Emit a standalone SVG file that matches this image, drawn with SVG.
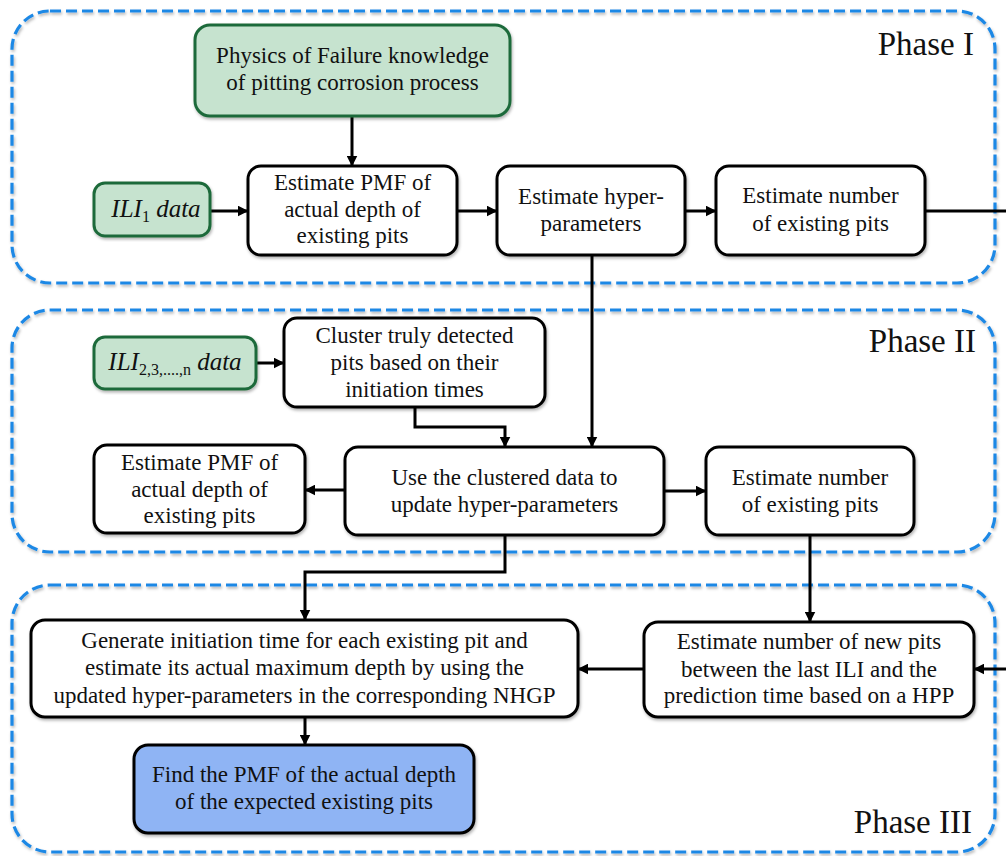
<svg xmlns="http://www.w3.org/2000/svg" width="1006" height="856" viewBox="0 0 1006 856">
  <style>
    .phase { fill: none; stroke: #1e88e5; stroke-width: 3.2; stroke-dasharray: 11 5; filter: url(#soft); }
    .box { fill: #ffffff; stroke: #000000; stroke-width: 3; filter: url(#soft); }
    .data { fill: #c6e3cf; stroke: #1f6b3a; stroke-width: 3; filter: url(#soft); }
    .result { fill: #8fb4f4; stroke: #000000; stroke-width: 3; filter: url(#soft); }
    .label { font-family: "Liberation Serif", "Times New Roman", serif; font-size: 23px; fill: #111111; text-anchor: middle; }
    .math { font-family: "Liberation Serif", "Times New Roman", serif; font-size: 25px; font-style: italic; fill: #111111; text-anchor: middle; }
    .sub { font-style: normal; font-size: 16px; }
    .phase-title { font-family: "Liberation Serif", "Times New Roman", serif; font-size: 33px; fill: #111111; text-anchor: end; }
    .link { fill: none; stroke: #000000; stroke-width: 3; }
  </style>
  <defs>
    <filter id="soft" x="-5%" y="-5%" width="110%" height="115%">
      <feDropShadow dx="1" dy="2" stdDeviation="1.4" flood-color="#000000" flood-opacity="0.3"/>
    </filter>
    <marker id="arrow" viewBox="0 0 10 10" refX="9.5" refY="5" markerWidth="11" markerHeight="11" markerUnits="userSpaceOnUse" orient="auto">
      <path d="M0,0 L10,5 L0,10 Z" fill="#000000"/>
    </marker>
  </defs>

  <rect width="1006" height="856" fill="#ffffff"/>

  <!-- phase containers -->
  <g id="phase-1">
    <rect class="phase" x="12" y="11" width="983" height="272" rx="38"/>
    <text class="phase-title" x="974" y="55">Phase I</text>
  </g>
  <g id="phase-2">
    <rect class="phase" x="12" y="310" width="983" height="242" rx="38"/>
    <text class="phase-title" x="976" y="352">Phase II</text>
  </g>
  <g id="phase-3">
    <rect class="phase" x="12" y="585" width="983" height="267" rx="38"/>
    <text class="phase-title" x="972" y="833">Phase III</text>
  </g>

  <!-- connectors -->
  <g id="connectors">
    <path class="link" d="M352,116 V166" marker-end="url(#arrow)"/>
    <path class="link" d="M210,211 H248" marker-end="url(#arrow)"/>
    <path class="link" d="M457,211 H497" marker-end="url(#arrow)"/>
    <path class="link" d="M685,211 H716" marker-end="url(#arrow)"/>
    <path class="link" d="M925,211 H1006"/>
    <path class="link" d="M592,255 V447" marker-end="url(#arrow)"/>
    <path class="link" d="M256,363 H284" marker-end="url(#arrow)"/>
    <path class="link" d="M415,407 V427 H505 V447" marker-end="url(#arrow)"/>
    <path class="link" d="M345,490 H305" marker-end="url(#arrow)"/>
    <path class="link" d="M664,491 H706" marker-end="url(#arrow)"/>
    <path class="link" d="M505,535 V572 H305 V620" marker-end="url(#arrow)"/>
    <path class="link" d="M810,535 V622" marker-end="url(#arrow)"/>
    <path class="link" d="M644,669 H578" marker-end="url(#arrow)"/>
    <path class="link" d="M1006,669 H974" marker-end="url(#arrow)"/>
    <path class="link" d="M305,717 V745" marker-end="url(#arrow)"/>
  </g>

  <!-- Phase I nodes -->
  <g id="physics-of-failure">
    <rect class="data" x="195" y="25" width="315" height="91" rx="15"/>
    <text class="label" x="352.5" y="63">Physics of Failure knowledge</text>
    <text class="label" x="352.5" y="90">of pitting corrosion process</text>
  </g>
  <g id="ili-1-data">
    <rect class="data" x="94" y="183" width="116" height="53" rx="11"/>
    <text class="math" x="156" y="217">ILI<tspan class="sub" dy="5">1</tspan><tspan dy="-5"> data</tspan></text>
  </g>
  <g id="estimate-pmf-1">
    <rect class="box" x="248" y="166" width="209" height="89" rx="13"/>
    <text class="label" x="352.5" y="190">Estimate PMF of</text>
    <text class="label" x="352.5" y="217">actual depth of</text>
    <text class="label" x="352.5" y="243">existing pits</text>
  </g>
  <g id="estimate-hyper-1">
    <rect class="box" x="497" y="166" width="188" height="89" rx="13"/>
    <text class="label" x="591" y="204">Estimate hyper-</text>
    <text class="label" x="591" y="231">parameters</text>
  </g>
  <g id="estimate-number-1">
    <rect class="box" x="716" y="166" width="209" height="89" rx="13"/>
    <text class="label" x="820.5" y="203">Estimate number</text>
    <text class="label" x="820.5" y="231">of existing pits</text>
  </g>

  <!-- Phase II nodes -->
  <g id="ili-2n-data">
    <rect class="data" x="94" y="337" width="162" height="52" rx="11"/>
    <text class="math" x="175" y="370">ILI<tspan class="sub" dy="5">2,3,....,n</tspan><tspan dy="-5"> data</tspan></text>
  </g>
  <g id="cluster-pits">
    <rect class="box" x="284" y="318" width="261" height="89" rx="13"/>
    <text class="label" x="414.5" y="343">Cluster truly detected</text>
    <text class="label" x="414.5" y="370">pits based on their</text>
    <text class="label" x="414.5" y="397">initiation times</text>
  </g>
  <g id="update-hyper">
    <rect class="box" x="345" y="447" width="319" height="88" rx="13"/>
    <text class="label" x="504.5" y="485">Use the clustered data to</text>
    <text class="label" x="504.5" y="512">update hyper-parameters</text>
  </g>
  <g id="estimate-pmf-2">
    <rect class="box" x="94" y="445" width="211" height="88" rx="13"/>
    <text class="label" x="199.5" y="470">Estimate PMF of</text>
    <text class="label" x="199.5" y="497">actual depth of</text>
    <text class="label" x="199.5" y="523">existing pits</text>
  </g>
  <g id="estimate-number-2">
    <rect class="box" x="706" y="447" width="208" height="88" rx="13"/>
    <text class="label" x="810" y="485">Estimate number</text>
    <text class="label" x="810" y="512">of existing pits</text>
  </g>

  <!-- Phase III nodes -->
  <g id="generate-initiation">
    <rect class="box" x="31" y="620" width="547" height="97" rx="14"/>
    <text class="label" x="304.5" y="648">Generate initiation time for each existing pit and</text>
    <text class="label" x="304.5" y="675">estimate its actual maximum depth by using the</text>
    <text class="label" x="304.5" y="703">updated hyper-parameters in the corresponding NHGP</text>
  </g>
  <g id="estimate-new-pits">
    <rect class="box" x="644" y="622" width="330" height="95" rx="14"/>
    <text class="label" x="809" y="649">Estimate number of new pits</text>
    <text class="label" x="809" y="677">between the last ILI and the</text>
    <text class="label" x="809" y="703">prediction time based on a HPP</text>
  </g>
  <g id="final-pmf">
    <rect class="result" x="134" y="745" width="340" height="88" rx="14"/>
    <text class="label" x="304" y="782">Find the PMF of the actual depth</text>
    <text class="label" x="304" y="809">of the expected existing pits</text>
  </g>
</svg>
